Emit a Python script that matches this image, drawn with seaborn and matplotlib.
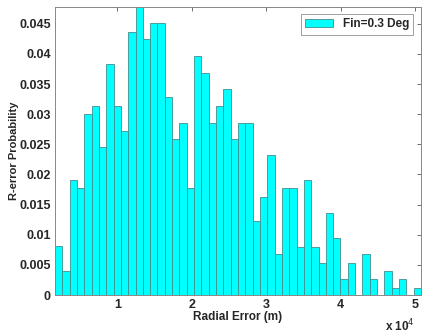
import numpy as np
import pandas as pd
import matplotlib
matplotlib.use("Agg")
import matplotlib.pyplot as plt
from matplotlib.ticker import FuncFormatter, FixedLocator
import seaborn as sns

# Histogram of radial error (50 bins)
range_min_m = 1630.0
range_max_m = 50800.0
probability = [
    0.0081, 0.0040, 0.0191, 0.0177, 0.0301, 0.0314, 0.0245, 0.0383, 0.0314, 0.0272,
    0.0437, 0.0478, 0.0425, 0.0451, 0.0451, 0.0328, 0.0259, 0.0286, 0.0177, 0.0396,
    0.0369, 0.0286, 0.0314, 0.0342, 0.0259, 0.0286, 0.0286, 0.0123, 0.0163, 0.0233,
    0.0068, 0.0177, 0.0177, 0.0080, 0.0191, 0.0080, 0.0053, 0.0136, 0.0095, 0.0026,
    0.0053, 0.0000, 0.0068, 0.0026, 0.0000, 0.0040, 0.0012, 0.0026, 0.0000, 0.0012,
]
x_ticks_m = [10000, 20000, 30000, 40000, 50000]
y_ticks = [0, 0.005, 0.01, 0.015, 0.02, 0.025, 0.03, 0.035, 0.04, 0.045]
legend_label = "Fin=0.3 Deg"

edges = np.linspace(range_min_m, range_max_m, len(probability) + 1)
centers = (edges[:-1] + edges[1:]) / 2
df = pd.DataFrame({"radial_error": centers, "probability": probability})

sns.set_theme(style="white")
plt.rcParams["font.family"] = ["Liberation Sans", "DejaVu Sans"]

fig = plt.figure(figsize=(4.22, 3.34), dpi=100)
ax = fig.add_axes([55 / 422, 1 - 295 / 334, 366 / 422, 288 / 334])

sns.histplot(data=df, x="radial_error", weights="probability",
             bins=[float(e) for e in edges],
             color="#00ffff", alpha=1.0, edgecolor="#3f8f8f", linewidth=0.6,
             label=legend_label, ax=ax)

ax.set_xlim(range_min_m, range_max_m)
ax.set_ylim(0, 0.0478)
ax.xaxis.set_major_locator(FixedLocator(x_ticks_m))
ax.yaxis.set_major_locator(FixedLocator(y_ticks))
ax.xaxis.set_major_formatter(FuncFormatter(lambda v, p: f"{v / 1e4:g}"))
ax.yaxis.set_major_formatter(FuncFormatter(lambda v, p: f"{v:g}"))

ax.tick_params(direction="in", length=3, width=0.6, color="#555555",
               top=True, right=True, labelsize=9, pad=3)
for lab in ax.get_xticklabels() + ax.get_yticklabels():
    lab.set_fontweight("bold")
for s in ax.spines.values():
    s.set_visible(True)
    s.set_color("#888888")
    s.set_linewidth(0.7)

ax.set_xlabel("Radial Error (m)", fontsize=8.5, fontweight="bold", labelpad=0)
ax.set_ylabel("R-error Probability", fontsize=8, fontweight="bold")
ax.yaxis.set_label_coords((19 - 55) / 366, 0.5)
fig.text(400 / 422, 1 - 326 / 334, "x 10$^4$", fontsize=8.5, fontweight="bold",
         ha="center", va="center")

leg = ax.legend(loc="upper right", prop={"weight": "bold", "size": 8.5},
                frameon=True, fancybox=False, borderpad=0.35, handlelength=2.4,
                handletextpad=0.8, bbox_to_anchor=(0.995, 0.995))
leg.get_frame().set_edgecolor("#888888")
leg.get_frame().set_linewidth(0.7)

fig.savefig("out.png", dpi=100)
